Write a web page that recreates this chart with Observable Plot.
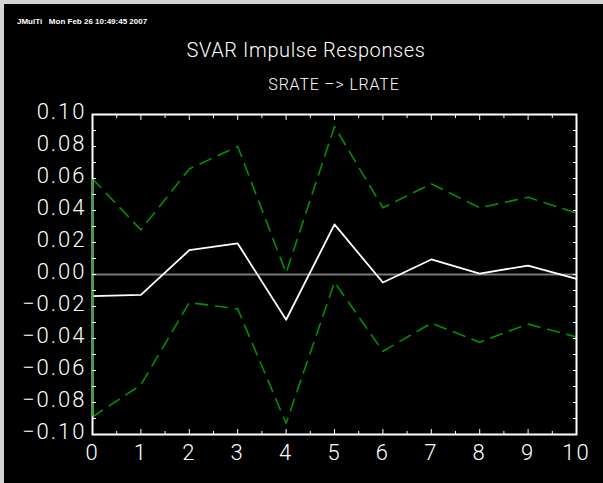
<!DOCTYPE html>
<html><head><meta charset="utf-8">
<script src="https://cdn.jsdelivr.net/npm/d3@7"></script>
<script src="https://cdn.jsdelivr.net/npm/@observablehq/plot@0.6"></script>
<style>
html,body{margin:0;padding:0;background:#000;}
#wrap{position:relative;width:603px;height:483px;overflow:hidden;background:#000;}
#wrap svg{position:absolute;left:0;top:0;}
.t{position:absolute;color:#fff;white-space:nowrap;font-family:Roboto,"DejaVu Sans",sans-serif;font-weight:300;line-height:1;}
.edge{position:absolute;background:#d4d4d4;}
.ylab text{letter-spacing:2px;}
</style></head><body>
<div id="wrap">
  <div class="edge" style="left:0;top:0;width:603px;height:4px"></div>
  <div class="edge" style="left:0;top:0;width:4px;height:483px"></div>
  <div class="t" id="hdr" style="left:17px;top:18px;font-family:'Liberation Sans',Arial,sans-serif;font-weight:700;font-size:8px;">JMulTi&nbsp;&nbsp;&nbsp;Mon Feb 26 10:49:45 2007</div>
  <div class="t" id="title" style="left:306px;top:40px;font-size:20px;transform:translateX(-50%);letter-spacing:0.6px">SVAR Impulse Responses</div>
  <div class="t" id="sub" style="left:334px;top:77px;font-size:16px;transform:translateX(-50%);letter-spacing:0.8px">SRATE –&gt; LRATE</div>
</div>
<script>
const steps    = [0, 1, 2, 3, 4, 5, 6, 7, 8, 9, 10];
const response = [-0.0135, -0.0127, 0.0152, 0.0194, -0.0283, 0.0313, -0.0050, 0.0094, 0.0006, 0.0056, -0.0027];
const upper    = [0.0598, 0.0279, 0.0660, 0.0800, 0.0010, 0.0925, 0.0417, 0.0567, 0.0417, 0.0483, 0.0383];
const lower    = [-0.0890, -0.0690, -0.0175, -0.0215, -0.0930, -0.0048, -0.0480, -0.0304, -0.0423, -0.0310, -0.0390];

const yLabelTicks = [-0.10, -0.08, -0.06, -0.04, -0.02, 0.00, 0.02, 0.04, 0.06, 0.08, 0.10];
const yMinorTicks = [-0.09, -0.07, -0.05, -0.03, -0.01, 0.01, 0.03, 0.05, 0.07, 0.09];
const xLabelTicks = [0, 1, 2, 3, 4, 5, 6, 7, 8, 9, 10];
const xMinorTicks = [0.5, 1.5, 2.5, 3.5, 4.5, 5.5, 6.5, 7.5, 8.5, 9.5];

const rows = steps.map((s, i) => ({step: s, resp: response[i], up: upper[i], lo: lower[i]}));
const fmt = d3.format(".2f");
const green = "#009000";

const chart = Plot.plot({
  width: 603,
  height: 483,
  marginLeft: 92,
  marginRight: 27,
  marginTop: 114,
  marginBottom: 49,
  style: {background: "transparent", color: "white", fontFamily: "Roboto, 'DejaVu Sans', sans-serif", fontWeight: 300},
  x: {domain: [0, 10]},
  y: {domain: [-0.1, 0.1]},
  marks: [
    Plot.ruleY([0], {stroke: "#7a7a7a", strokeWidth: 2}),
    Plot.lineY(rows, {x: "step", y: "up", stroke: green, strokeWidth: 1.6, strokeDasharray: "12,8"}),
    Plot.lineY(rows, {x: "step", y: "lo", stroke: green, strokeWidth: 1.6, strokeDasharray: "12,8"}),
    Plot.lineY(rows, {x: "step", y: "resp", stroke: "white", strokeWidth: 1.8}),
    Plot.frame({stroke: "white", strokeWidth: 2}),
    Plot.ruleX(rows.slice(0, 1), {x: "step", y1: "lo", y2: "up", stroke: "#3a9e3a", strokeWidth: 2}),
    // inward ticks
    Plot.axisY(yLabelTicks.concat(yMinorTicks), {anchor: "left", tickSize: 4, dx: 4, tickFormat: () => "", label: null}),
    Plot.axisY(yLabelTicks.concat(yMinorTicks), {anchor: "right", tickSize: 4, dx: -4, tickFormat: () => "", label: null}),
    Plot.axisX(xLabelTicks, {anchor: "bottom", tickSize: 5, dy: -5, tickFormat: () => "", label: null}),
    Plot.axisX(xMinorTicks, {anchor: "bottom", tickSize: 3, dy: -3, tickFormat: () => "", label: null}),
    Plot.axisX(xLabelTicks, {anchor: "top", tickSize: 5, dy: 5, tickFormat: () => "", label: null}),
    Plot.axisX(xMinorTicks, {anchor: "top", tickSize: 3, dy: 3, tickFormat: () => "", label: null}),
    // labels
    Plot.axisY(yLabelTicks, {anchor: "left", tickSize: 0, tickPadding: 6, dy: -3, tickFormat: fmt, fontSize: 22, label: null, className: "ylab"}),
    Plot.axisX(xLabelTicks, {anchor: "bottom", tickSize: 0, tickPadding: 10, tickFormat: d => String(d), fontSize: 22, label: null, className: "ylab"})
  ]
});
document.getElementById("wrap").insertBefore(chart, document.getElementById("wrap").firstChild);
</script>
</body></html>
